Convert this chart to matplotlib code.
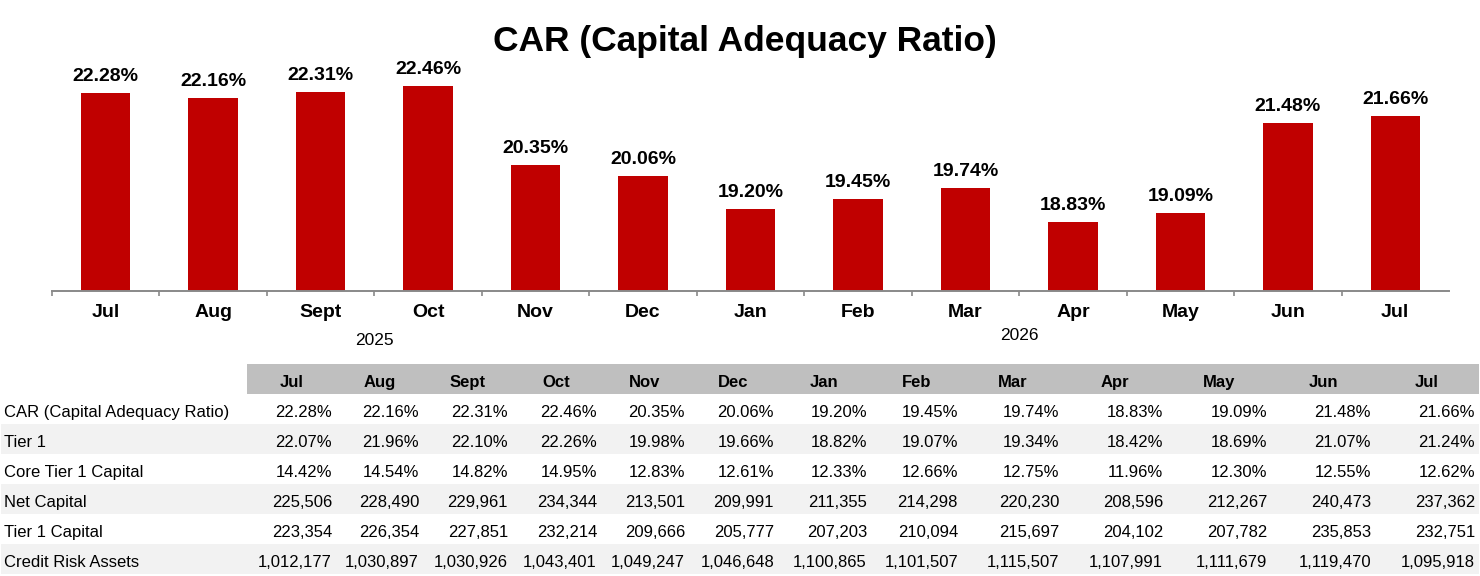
import matplotlib
matplotlib.use('Agg')
import matplotlib.pyplot as plt
from matplotlib.patches import Rectangle
from matplotlib.transforms import blended_transform_factory

plt.rcParams['font.family'] = ['Liberation Sans', 'DejaVu Sans']

# data
months = ['Jul', 'Aug', 'Sept', 'Oct', 'Nov', 'Dec', 'Jan', 'Feb', 'Mar', 'Apr', 'May', 'Jun', 'Jul']
years = ['2025', '2026']
car = [22.28, 22.16, 22.31, 22.46, 20.35, 20.06, 19.20, 19.45, 19.74, 18.83, 19.09, 21.48, 21.66]
tier1 = [22.07, 21.96, 22.10, 22.26, 19.98, 19.66, 18.82, 19.07, 19.34, 18.42, 18.69, 21.07, 21.24]
core_tier1 = [14.42, 14.54, 14.82, 14.95, 12.83, 12.61, 12.33, 12.66, 12.75, 11.96, 12.30, 12.55, 12.62]
net_capital = [225506, 228490, 229961, 234344, 213501, 209991, 211355, 214298, 220230, 208596, 212267, 240473, 237362]
tier1_capital = [223354, 226354, 227851, 232214, 209666, 205777, 207203, 210094, 215697, 204102, 207782, 235853, 232751]
credit_risk = [1012177, 1030897, 1030926, 1043401, 1049247, 1046648, 1100865, 1101507, 1115507, 1107991, 1111679, 1119470, 1095918]

row_names = ['CAR (Capital Adequacy Ratio)', 'Tier 1', 'Core Tier 1 Capital',
             'Net Capital', 'Tier 1 Capital', 'Credit Risk Assets']
rows = [[f'{v:.2f}%' for v in car],
        [f'{v:.2f}%' for v in tier1],
        [f'{v:.2f}%' for v in core_tier1],
        [f'{v:,}' for v in net_capital],
        [f'{v:,}' for v in tier1_capital],
        [f'{v:,}' for v in credit_risk]]

W, H = 1480, 576
fig = plt.figure(figsize=(W / 100, H / 100), dpi=100)

# table drawn underneath in pixel coords
tab = fig.add_axes([0, 0, 1, 1])
tab.set_xlim(0, W)
tab.set_ylim(H, 0)
tab.axis('off')

col_edges = [247, 336, 423, 512, 601, 689, 778, 871, 962, 1063, 1167, 1271, 1375, 1479]
head_top = 364
row_h = 30

tab.add_patch(Rectangle((col_edges[0], head_top), col_edges[-1] - col_edges[0], row_h,
                        facecolor='#bfbfbf', edgecolor='none'))
for j, m in enumerate(months):
    cx = (col_edges[j] + col_edges[j + 1]) / 2
    tab.text(cx, head_top + 23, m, ha='center', va='baseline', fontsize=12, fontweight='bold')

for i, (name, vals) in enumerate(zip(row_names, rows)):
    top = head_top + row_h * (i + 1)
    if i % 2 == 1:
        tab.add_patch(Rectangle((1, top), col_edges[-1] - 1, row_h,
                                facecolor='#f2f2f2', edgecolor='none'))
    tab.text(4, top + 23, name, ha='left', va='baseline', fontsize=12)
    for j, v in enumerate(vals):
        tab.text(col_edges[j + 1] - 4, top + 23, v, ha='right', va='baseline', fontsize=12)

# bar chart
ax = fig.add_axes([52 / W, 1 - 291 / H, 1397 / W, 243.75 / H])
x = list(range(len(months)))
bars = ax.bar(x, car, width=0.46, color='#c00000', zorder=2)
ax.set_xlim(-0.5, len(months) - 0.5)
ax.set_ylim(17, 23.5)

for xi, v in zip(x, car):
    ax.annotate(f'{v:.2f}%', (xi, v), xytext=(0, 8.6), textcoords='offset points',
                ha='center', va='baseline', fontsize=14, fontweight='bold')

for s in ['top', 'right', 'left']:
    ax.spines[s].set_visible(False)
ax.spines['bottom'].set_color('#898989')
ax.spines['bottom'].set_linewidth(1.4)
ax.set_yticks([])
ax.set_xticks([i - 0.5 for i in range(len(months))])
ax.set_xticklabels([])
ax.tick_params(axis='x', which='major', length=3.6, width=1.2, color='#898989', direction='out')
ax.set_xticks(x, minor=True)
ax.set_xticklabels(months, minor=True, fontsize=14, fontweight='bold')
ax.tick_params(axis='x', which='minor', length=0, pad=9.5)

trans = blended_transform_factory(ax.transData, fig.transFigure)
ax.text(2.5, 1 - 345 / H, years[0], transform=trans, ha='center', va='baseline', fontsize=12.5)
ax.text(8.5, 1 - 340 / H, years[1], transform=trans, ha='center', va='baseline', fontsize=12.5)

fig.text(745 / W, 1 - 51 / H, 'CAR (Capital Adequacy Ratio)', ha='center', va='baseline',
         fontsize=25.5, fontweight='bold')

fig.savefig('out.png', dpi=100)
